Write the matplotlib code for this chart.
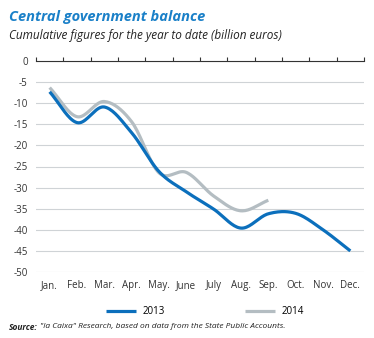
import numpy as np
import matplotlib
matplotlib.use("Agg")
import matplotlib.pyplot as plt

plt.rcParams['font.family'] = ['Open Sans', 'DejaVu Sans']

months = ['Jan.', 'Feb.', 'Mar.', 'Apr.', 'May.', 'June', 'July', 'Aug.',
          'Sep.', 'Oct.', 'Nov.', 'Dec.']
bal_2013 = [-7.3, -14.6, -10.9, -17.0, -26.2, -31.0, -35.1, -39.6, -36.2, -36.1, -40.0, -45.0]
bal_2014 = [-6.3, -13.2, -9.6, -14.4, -26.5, -26.4, -32.0, -35.5, -33.0]

BLUE = '#0b6fbc'
GREY = '#b4bdc2'


def smooth(x, y, n=20):
    # catmull-rom through the monthly points, just for drawing
    x = np.asarray(x, float)
    y = np.asarray(y, float)
    px = np.concatenate([[2 * x[0] - x[1]], x, [2 * x[-1] - x[-2]]])
    py = np.concatenate([[2 * y[0] - y[1]], y, [2 * y[-1] - y[-2]]])
    xs, ys = [], []
    t = np.linspace(0, 1, n, endpoint=False)
    for i in range(1, len(px) - 2):
        for p, out in ((px, xs), (py, ys)):
            p0, p1, p2, p3 = p[i - 1], p[i], p[i + 1], p[i + 2]
            out.extend(0.5 * (2 * p1 + (-p0 + p2) * t
                              + (2 * p0 - 5 * p1 + 4 * p2 - p3) * t ** 2
                              + (-p0 + 3 * p1 - 3 * p2 + p3) * t ** 3))
    xs.append(x[-1])
    ys.append(y[-1])
    return np.array(xs), np.array(ys)


fig = plt.figure(figsize=(3.74, 3.38), dpi=100)
ax = fig.add_axes([36 / 374, 1 - 272 / 338, 328 / 374, 211 / 338])

x13 = np.arange(len(bal_2013))
x14 = np.arange(len(bal_2014))
sx, sy = smooth(x13, bal_2013)
l13, = ax.plot(sx, sy, color=BLUE, lw=2.3, solid_capstyle='butt', zorder=3)
sx, sy = smooth(x14, bal_2014)
l14, = ax.plot(sx, sy, color=GREY, lw=2.3, solid_capstyle='butt', zorder=2)

ax.set_xlim(-0.5, 11.5)
ax.set_ylim(-50, 0)
ax.set_yticks(np.arange(-50, 1, 5))
ax.set_yticklabels([str(v) for v in range(-50, 1, 5)])
ax.yaxis.grid(True, color='#cfd3d6', lw=0.8)
ax.set_axisbelow(True)
ax.tick_params(axis='y', length=0, labelsize=7, colors='#333333', pad=6)

for s in ['left', 'right', 'bottom']:
    ax.spines[s].set_visible(False)
ax.spines['top'].set_color('#333333')
ax.spines['top'].set_linewidth(0.8)

ax.set_xticks(x13)
ax.set_xticklabels(months)
ax.set_xticks(np.arange(-0.5, 12, 1), minor=True)
ax.tick_params(axis='x', which='major', length=0, labelsize=7, colors='#333333', pad=6)
ax.tick_params(axis='x', which='minor', top=True, bottom=False, direction='out',
               length=3, width=0.8, color='#333333')

fig.text(9 / 374, 1 - 17 / 338, 'Central government balance', color='#1a80c8',
         fontsize=10.5, fontweight='bold', style='italic', va='center')
fig.text(9 / 374, 1 - 36 / 338, 'Cumulative figures for the year to date (billion euros)',
         color='#222222', fontsize=8.5, style='italic', va='center')

ax.legend([l13, l14], ['2013', '2014'], loc='upper center',
          bbox_to_anchor=(0.515, -0.12), ncol=2, frameon=False, fontsize=7,
          handlelength=3.1, columnspacing=8.3, handletextpad=0.6)

src = fig.text(9 / 374, 1 - 327 / 338, 'Source:', fontsize=6, va='center',
               style='italic', fontweight='bold', color='#222222')
fig.canvas.draw()
bb = src.get_window_extent(renderer=fig.canvas.get_renderer())
fig.text(bb.x1 / fig.bbox.width + 0.006, 1 - 327 / 338,
         '"la Caixa" Research, based on data from the State Public Accounts.',
         fontsize=6, va='center', style='italic', color='#222222')

fig.savefig('out.png', dpi=100)
